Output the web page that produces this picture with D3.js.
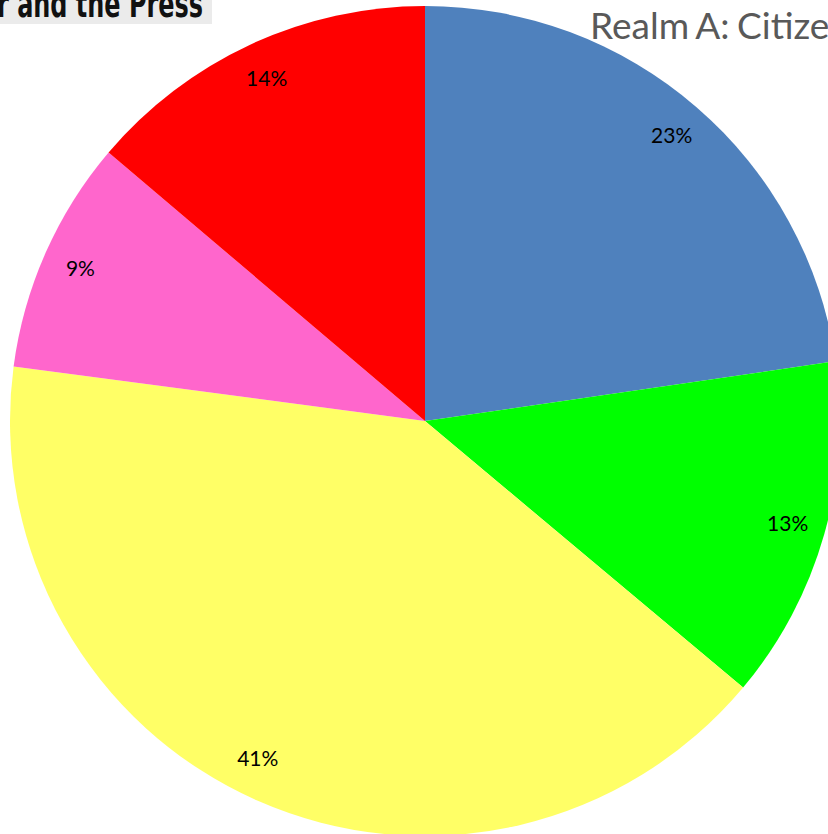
<!DOCTYPE html>
<html>
<head>
<meta charset="utf-8">
<script src="https://cdn.jsdelivr.net/npm/d3@7"></script>
<style>
  html, body { margin: 0; padding: 0; background: #fff; overflow: hidden; }
  #chart { width: 828px; height: 834px; }
</style>
</head>
<body>
<div id="chart"></div>
<script>
// slice shares (percent), clockwise from 12 o'clock
const categories = ['A', 'B', 'C', 'D', 'E']
const shares = [22.7, 13.4, 41.0, 9.1, 13.8]
const labels = ['23%', '13%', '41%', '9%', '14%']
const colors = ['#4f81bd', '#00ff00', '#ffff66', '#ff66cc', '#ff0000']

const width = 828
const height = 834
const cx = 425, cy = 421
const radius = 415
const labelRadius = 377
// excel shifted the big label a little off the slice middle
const labelNudge = [0, 0, 0.045, 0, 0]

const svg = d3.select('#chart')
    .append('svg')
    .attr('width', width)
    .attr('height', height)

const g = svg.append('g')
    .attr('transform', `translate(${cx}, ${cy})`)

const pie = d3.pie()
    .sort(null)
    .value(d => d)

const arc = d3.arc()
    .innerRadius(0)
    .outerRadius(radius)

const arcs = pie(shares)

//slices
g.selectAll('path.slice')
    .data(arcs)
    .enter()
    .append('path')
    .attr('class', 'slice')
    .attr('d', arc)
    .attr('fill', (d, i) => colors[i])

//percent labels
g.selectAll('text.pct')
    .data(arcs)
    .enter()
    .append('text')
    .attr('class', 'pct')
    .attr('transform', (d, i) => {
        const a = (d.startAngle + d.endAngle) / 2 + labelNudge[i]
        return `translate(${labelRadius * Math.sin(a)}, ${-labelRadius * Math.cos(a)})`
    })
    .attr('dy', '0.36em')
    .style('text-anchor', 'middle')
    .style('font-family', 'Lato, "Open Sans", sans-serif')
    .style('font-size', '21px')
    .style('fill', '#000')
    .text((d, i) => labels[i])

//cropped header box top-left
svg.append('rect')
    .attr('x', 0)
    .attr('y', 0)
    .attr('width', 212)
    .attr('height', 24)
    .style('fill', '#ebebeb')
svg.append('text')
    .attr('x', -3)
    .attr('y', 17)
    .attr('textLength', 206)
    .attr('lengthAdjust', 'spacingAndGlyphs')
    .style('font-family', '"DejaVu Sans Condensed", "Liberation Sans Narrow", sans-serif')
    .style('font-weight', 'bold')
    .style('font-size', '38px')
    .style('fill', '#111')
    .text('r and the Press')

//cropped subtitle top-right
svg.append('text')
    .attr('x', 590)
    .attr('y', 39)
    .style('font-family', 'Lato, "Open Sans", sans-serif')
    .style('font-size', '37px')
    .style('word-spacing', '-2px')
    .style('fill', '#595959')
    .text('Realm A: Citizens')
</script>
</body>
</html>
